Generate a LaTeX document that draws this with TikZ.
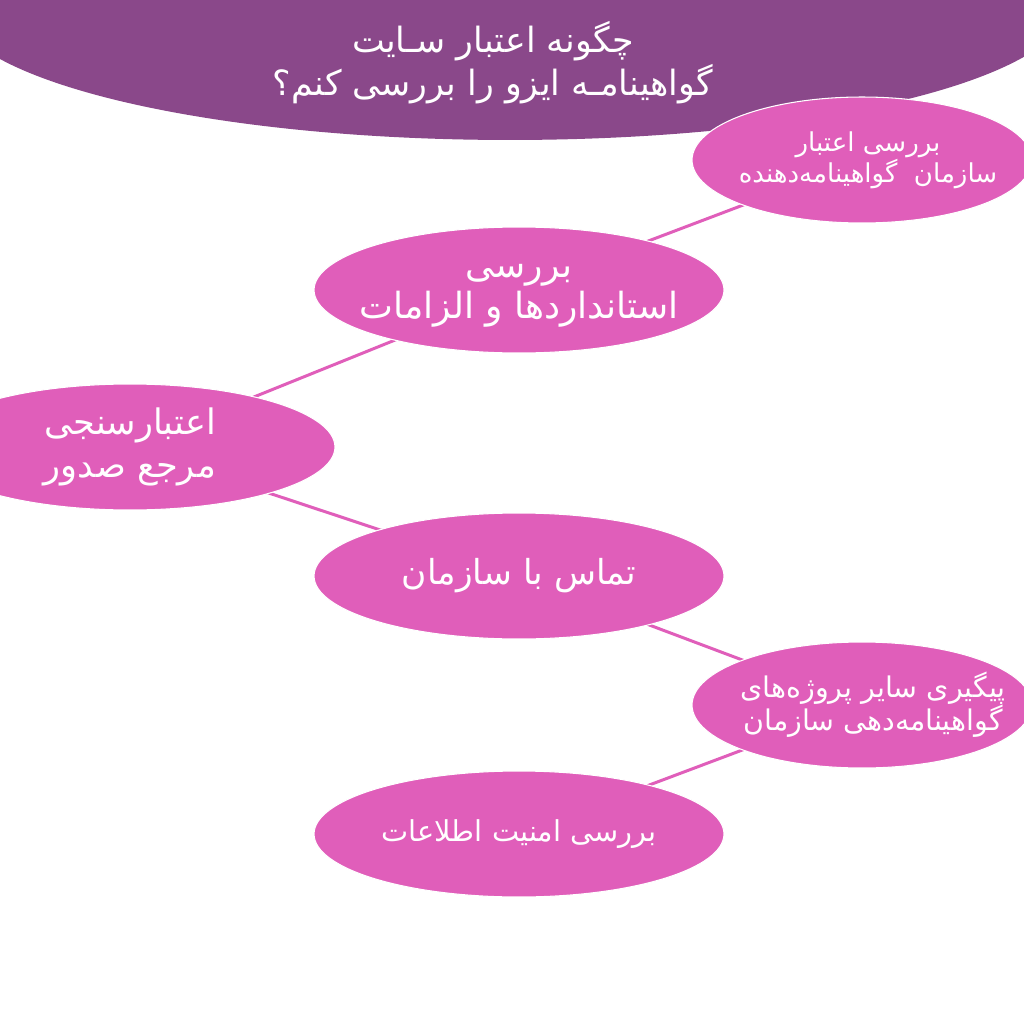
\documentclass[tikz,border=0pt]{standalone}
\usepackage{fontspec}
\usepackage{tikz}
\usetikzlibrary{shapes.geometric,backgrounds}
\newfontfamily\arabicfont[Script=Arabic]{DejaVu Sans}
\TeXXeTstate=1
\definecolor{pinkfill}{RGB}{224,94,186}
\definecolor{titlepurple}{RGB}{138,72,138}

\begin{document}
\begin{tikzpicture}[x=0.02cm, y=-0.02cm,
		node_style/.style={ellipse,draw=white,line width=0.6pt,fill=pinkfill,inner sep=0pt,
			minimum width=8.2cm,minimum height=2.52cm},
		node_small/.style={node_style,minimum width=6.8cm},
		text_style/.style={text=white,align=center,inner sep=0pt},
		title_back/.style={ellipse,fill=titlepurple,inner sep=0pt,minimum width=22.4cm,minimum height=5.52cm},
		title_text/.style={text=white,align=center,font=\arabicfont\fontsize{19.8}{24.5}\selectfont},
		edge_style/.style={draw=pinkfill,line width=1.7pt}]

		\useasboundingbox (0,0) rectangle (1024,1024);
		\clip (0,0) rectangle (1024,1024);

		\node[title_back] (t0) at (510,2) {};
		\node[title_text] (t1) at (493,63) {\beginR چگونه اعتبار سـایت\endR\\\beginR گواهینامـه ایزو را بررسی کنم؟\endR};

		\node[node_small,label={[text_style,xshift=0.12cm,font=\arabicfont\fontsize{14.8}{17.6}\selectfont]center:\beginR بررسی اعتبار\endR\\\beginR سازمان~ گواهینامه‌دهنده\endR}] (n1) at (862,160) {};
		\node[node_style,label={[text_style,yshift=-0.12cm,font=\arabicfont\fontsize{20.5}{23.5}\selectfont]center:\beginR بررسی\endR\\\beginR استانداردها و الزامات\endR}] (n2) at (519,290) {};
		\node[node_style,label={[text_style,font=\arabicfont\fontsize{20}{24.5}\selectfont]center:\beginR اعتبارسنجی\endR\\\beginR مرجع صدور\endR}] (n3) at (130,447) {};
		\node[node_style,label={[text_style,font=\arabicfont\fontsize{19.6}{23}\selectfont]center:\beginR تماس با سازمان\endR}] (n4) at (519,576) {};
		\node[node_small,label={[text_style,xshift=0.22cm,font=\arabicfont\fontsize{16.2}{18.7}\selectfont]center:\beginR پیگیری سایر پروژه‌های\endR\\\beginR گواهینامه‌دهی سازمان\endR}] (n5) at (862,705) {};
		\node[node_style,label={[text_style,font=\arabicfont\fontsize{16.4}{20}\selectfont]center:\beginR بررسی امنیت اطلاعات\endR}] (n6) at (519,834) {};

		\begin{scope}[on background layer]
		\fill[white] (0,0) rectangle (1024,1024);
		\draw[edge_style]  (n2.center) edge (n1.center);
		\draw[edge_style]  (n3.center) edge (n2.center);
		\draw[edge_style]  (n3.center) edge (n4.center);
		\draw[edge_style]  (n4.center) edge (n5.center);
		\draw[edge_style]  (n5.center) edge (n6.center);
		\end{scope}
\end{tikzpicture}
\end{document}
